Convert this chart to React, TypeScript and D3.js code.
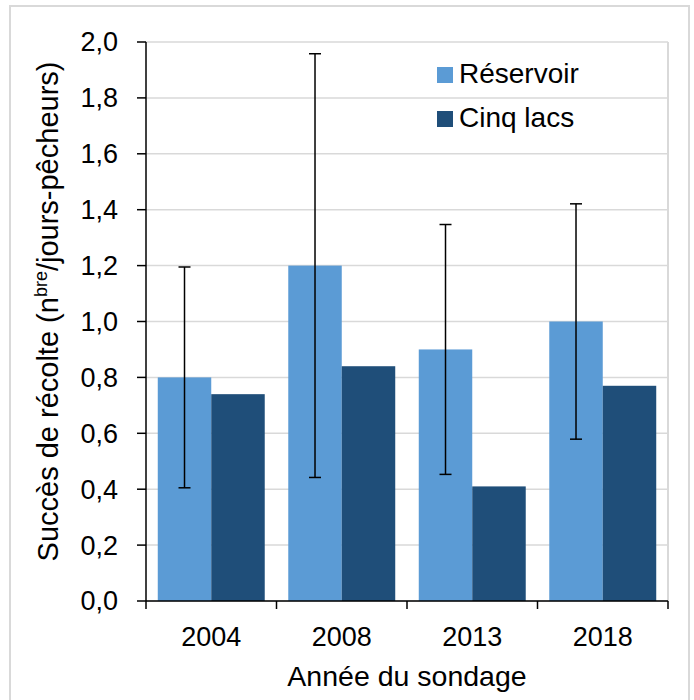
import React from "react";
import * as d3 from "d3";

const years = ["2004", "2008", "2013", "2018"];
const seriesNames = ["Réservoir", "Cinq lacs"];
const reservoir = [0.8, 1.2, 0.9, 1.0];
const cinqLacs = [0.74, 0.84, 0.41, 0.77];
const reservoirErr = [0.395, 0.758, 0.447, 0.421];
const yTicks = [0, 0.2, 0.4, 0.6, 0.8, 1.0, 1.2, 1.4, 1.6, 1.8, 2.0];

const colors = ["#5b9bd5", "#1f4e79"];
const font = "'Liberation Sans', Arial, Helvetica, sans-serif";

export default function App() {
  const width = 694;
  const height = 700;
  const left = 146;
  const right = 668;
  const top = 42;
  const bottom = 601;

  const x0 = d3.scaleBand().domain(years).range([left, right]).padding(0);
  const x1 = d3
    .scaleBand()
    .domain(seriesNames)
    .range([0, x0.bandwidth()])
    .paddingInner(0)
    .paddingOuter(0.22);
  const y = d3.scaleLinear().domain([0, 2]).range([bottom, top]);

  const fmt = (v: number) => d3.format(".1f")(v).replace(".", ",");

  const values = [reservoir, cinqLacs];

  return (
    <svg
      width={width}
      height={height}
      style={{ position: "absolute", left: 0, top: 0, background: "#fff" }}
      fontFamily={font}
    >
      <rect x={10} y={6} width={679} height={700} fill="#fff" stroke="#d9d9d9" strokeWidth={2} />

      {/* gridlines */}
      {yTicks.map((t) => (
        <line key={t} x1={left} x2={right} y1={y(t)} y2={y(t)} stroke="#d9d9d9" strokeWidth={1.5} />
      ))}
      <line x1={right} x2={right} y1={top} y2={bottom} stroke="#d9d9d9" strokeWidth={2} />

      {/* bars */}
      {seriesNames.map((s, si) =>
        years.map((yr, i) => (
          <rect
            key={s + yr}
            x={(x0(yr) ?? 0) + (x1(s) ?? 0)}
            y={y(values[si][i])}
            width={x1.bandwidth()}
            height={bottom - y(values[si][i])}
            fill={colors[si]}
          />
        ))
      )}

      {/* error bars */}
      {years.map((yr, i) => {
        const cx = (x0(yr) ?? 0) + (x1(seriesNames[0]) ?? 0) + x1.bandwidth() / 2;
        const hi = y(reservoir[i] + reservoirErr[i]);
        const lo = y(reservoir[i] - reservoirErr[i]);
        return (
          <g key={"err" + yr} stroke="#000" strokeWidth={1.5}>
            <line x1={cx} x2={cx} y1={hi} y2={lo} />
            <line x1={cx - 6} x2={cx + 6} y1={hi} y2={hi} />
            <line x1={cx - 6} x2={cx + 6} y1={lo} y2={lo} />
          </g>
        );
      })}

      {/* y axis */}
      <line x1={left} x2={left} y1={top} y2={bottom} stroke="#000" strokeWidth={1.5} />
      {yTicks.map((t) => (
        <g key={"yt" + t}>
          <line x1={left - 9} x2={left} y1={y(t)} y2={y(t)} stroke="#000" strokeWidth={1.5} />
          <text x={118} y={y(t)} dy="0.35em" textAnchor="end" fontSize={27} fill="#000">
            {fmt(t)}
          </text>
        </g>
      ))}

      {/* x axis */}
      <line x1={left} x2={right} y1={bottom} y2={bottom} stroke="#000" strokeWidth={1.5} />
      {[...years.map((yr) => x0(yr) ?? 0), right].map((xv, i) => (
        <line key={"xt" + i} x1={xv} x2={xv} y1={bottom} y2={bottom + 8} stroke="#000" strokeWidth={1.5} />
      ))}
      {years.map((yr) => (
        <text
          key={"xl" + yr}
          x={(x0(yr) ?? 0) + x0.bandwidth() / 2}
          y={646}
          textAnchor="middle"
          fontSize={27}
          fill="#000"
        >
          {yr}
        </text>
      ))}

      <text x={(left + right) / 2} y={686} textAnchor="middle" fontSize={28.5} fill="#000">
        Année du sondage
      </text>

      <text
        transform={`translate(58, ${(top + bottom) / 2 - 10}) rotate(-90)`}
        textAnchor="middle"
        fontSize={29}
        fill="#000"
      >
        Succès de récolte (n
        <tspan fontSize={18} dy={-11}>bre</tspan>
        <tspan dy={11}>/jours-pêcheurs)</tspan>
      </text>

      {/* legend */}
      {seriesNames.map((s, i) => (
        <g key={"lg" + s} transform={`translate(437, ${67 + i * 44})`}>
          <rect x={0} y={0} width={16} height={16} fill={colors[i]} />
          <text x={22} y={16} fontSize={28} fill="#000">
            {s}
          </text>
        </g>
      ))}
    </svg>
  );
}
